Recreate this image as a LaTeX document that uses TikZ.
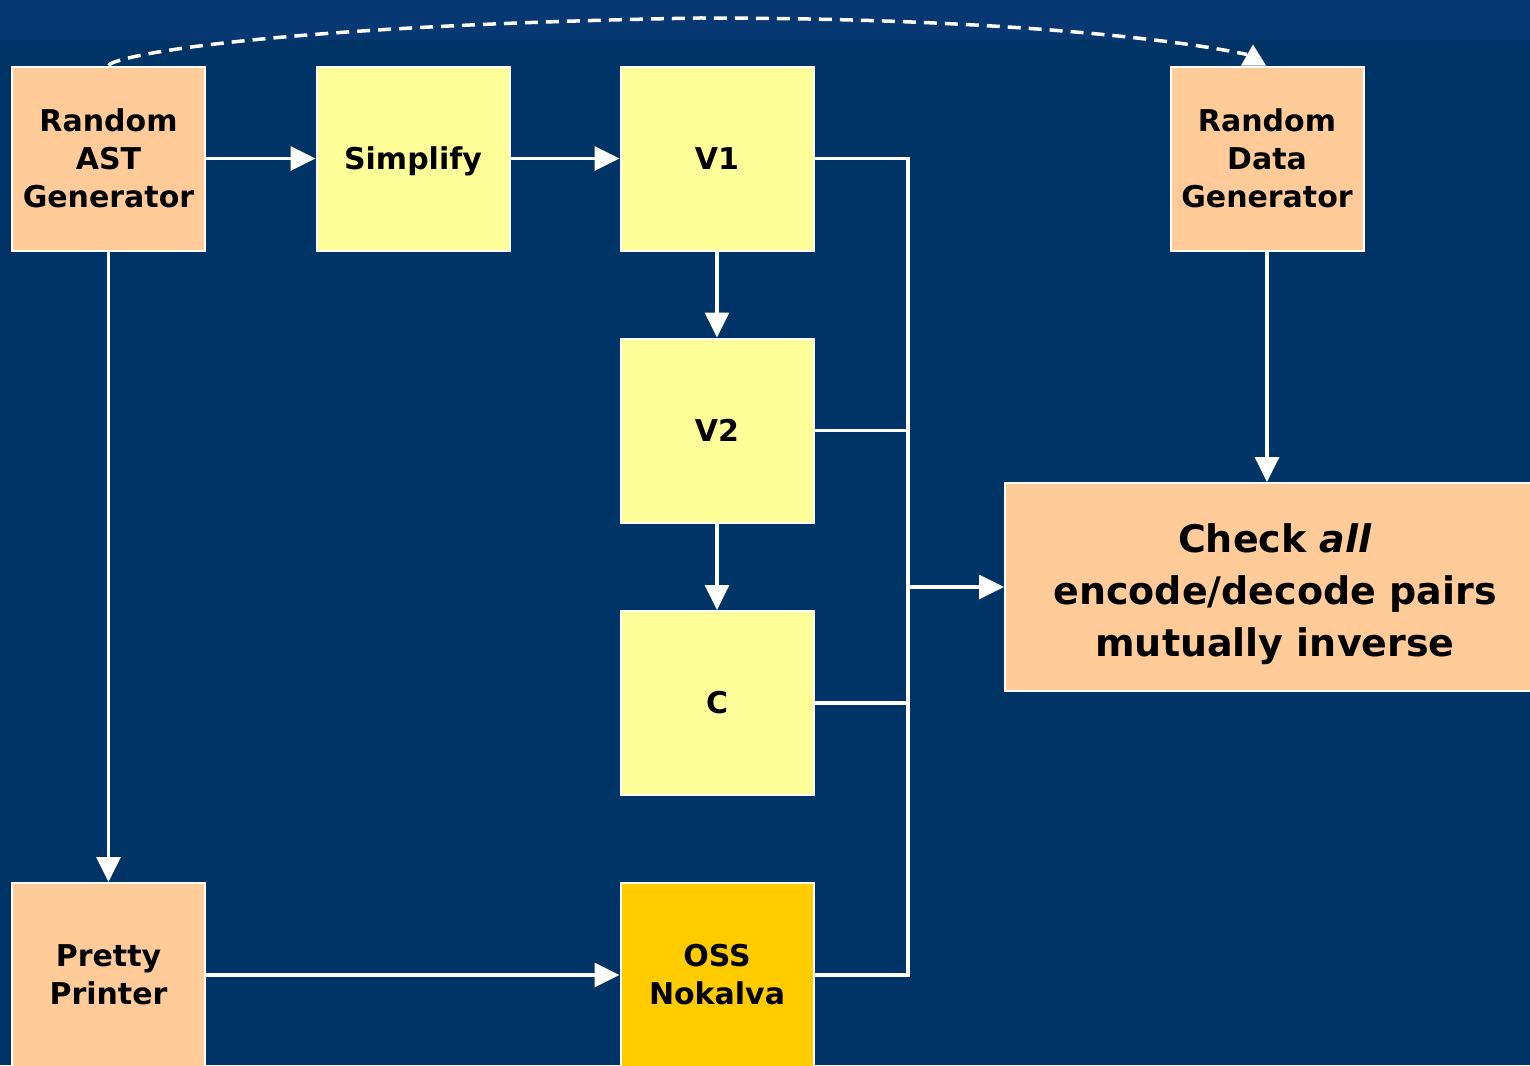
\documentclass[tikz,border=0pt]{standalone}
\usepackage{fontspec}
\setmainfont{DejaVu Sans}
\usetikzlibrary{arrows.meta,calc}
\definecolor{navy}{RGB}{0,51,102}
\definecolor{stripblue}{RGB}{8,56,114}
\definecolor{peach}{RGB}{255,204,153}
\definecolor{paleyellow}{RGB}{255,255,153}
\definecolor{gold}{RGB}{255,204,0}
\tikzset{
  box/.style={draw=white, line width=2pt, minimum width=193pt, minimum height=184pt,
    inner sep=0pt, align=center, text=black,
    font=\fontsize{30}{38}\selectfont\bfseries},
  peachbox/.style={box, fill=peach},
  yellowbox/.style={box, fill=paleyellow},
  goldbox/.style={box, fill=gold},
  conn/.style={draw=white, line width=3.5pt},
  arr/.style={conn, -{Triangle[length=25pt,width=24pt]}},
  dashconn/.style={draw=white, line width=3.5pt, dash pattern=on 13pt off 8pt},
}
\begin{document}
\begin{tikzpicture}[x=1pt,y=-1pt]
\useasboundingbox (0,0) rectangle (1530,1065);
\clip (0,0) rectangle (1530,1065);
\fill[navy] (0,0) rectangle (1530,1065);
\fill[stripblue] (0,0) rectangle (1530,40);
% nodes
\node[peachbox] (ast) at (108.5,158.5) {Random\\AST\\Generator};
\node[yellowbox, text depth=0pt] (simp) at (413,158.5) {Simplify};
\node[yellowbox] (v1) at (717,158.5) {V1};
\node[yellowbox] (v2) at (717,430.5) {V2};
\node[yellowbox] (c) at (717,703) {C};
\node[goldbox] (oss) at (717,975) {OSS\\Nokalva};
\node[peachbox] (pp) at (108.5,975) {Pretty\\Printer};
\node[peachbox] (rdg) at (1267,158.5) {Random\\Data\\Generator};
\node[box, fill=peach, minimum width=540pt, minimum height=208pt,
  font=\fontsize{38}{52}\selectfont\bfseries] (check) at (1275,587)
  {\rule{0pt}{44pt}Check \textit{all}\\encode/decode pairs\\mutually inverse};
\coordinate (bx) at (908,0);
% connectors
\draw[arr] (ast.east) -- (simp.west);
\draw[arr] (simp.east) -- (v1.west);
\draw[arr] (v1.south) -- (v2.north);
\draw[arr] (v2.south) -- (c.north);
\draw[arr] (ast.south) -- (pp.north);
\draw[arr] (pp.east) -- (oss.west);
\draw[conn] (v1.east) -- (v1.east -| bx) -- (oss.east -| bx) -- (oss.east);
\draw[conn] (v2.east) -- (v2.east -| bx);
\draw[conn] (c.east) -- (c.east -| bx);
\draw[arr] (check.west -| bx) -- (check.west);
\draw[arr] (rdg.south) -- (rdg.south |- check.north);
% dashed curved connector
\draw[dashconn] (ast.north) .. controls (112,57) and (250,26) .. (700,18)
  .. controls (1000,18) and (1180,40) .. ($(rdg.north)+(-20,-11)$);
\fill[white] ($(rdg.north)+(-26,0)$) -- ($(rdg.north)+(-14,-21)$) -- ($(rdg.north)+(-1,0)$) -- cycle;
\end{tikzpicture}
\end{document}
